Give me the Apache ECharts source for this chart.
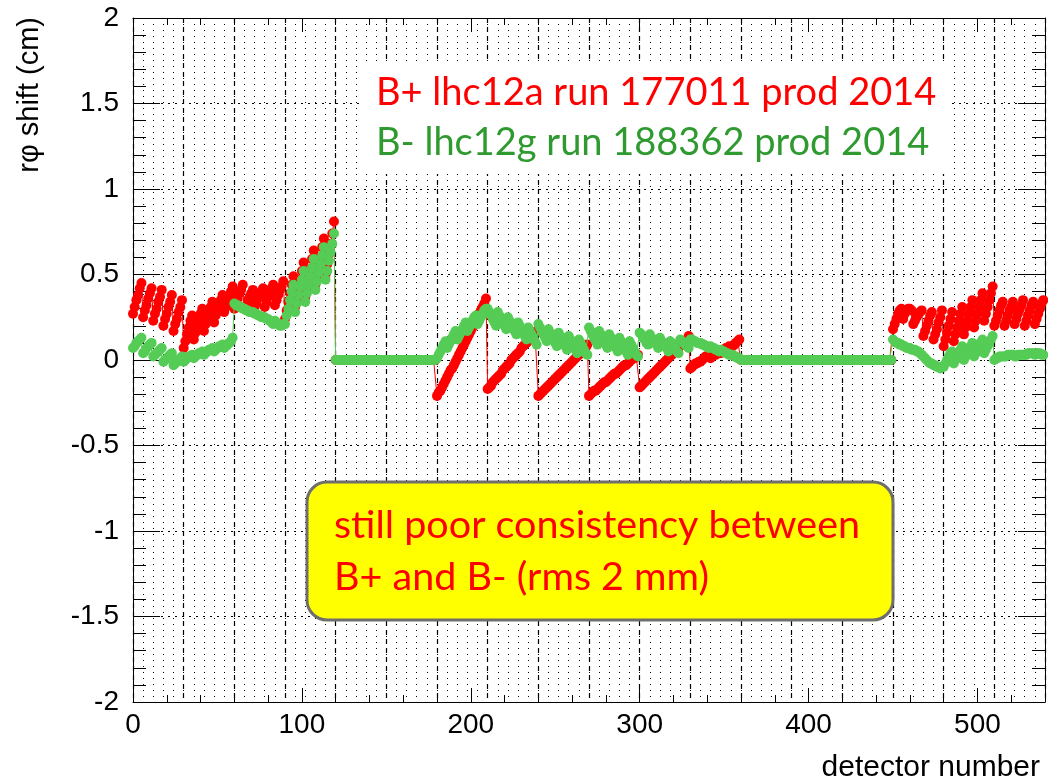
<!DOCTYPE html>
<html>
<head>
<meta charset="utf-8">
<script src="https://cdn.jsdelivr.net/npm/echarts@6/dist/echarts.min.js"></script>
<style>
  html, body { margin: 0; padding: 0; background: #ffffff; }
  #chart { width: 1048px; height: 782px; }
</style>
</head>
<body>
<div id="chart"></div>
<script>
// r-phi shift per TRD chamber (cm); one row per supermodule (5 stacks x 6 layers)
const redShift = [
  0.27,0.31,0.35,0.38,0.42,0.45, 0.25,0.29,0.32,0.36,0.39,0.42, 0.23,0.27,0.30,0.34,0.37,0.41, 0.20,0.24,0.27,0.31,0.34,0.38, 0.17,0.21,0.24,0.28,0.31,0.35,
  0.07,0.11,0.15,0.19,0.23,0.26, 0.12,0.16,0.20,0.24,0.27,0.30, 0.17,0.21,0.24,0.28,0.31,0.34, 0.22,0.26,0.29,0.32,0.35,0.38, 0.28,0.31,0.34,0.37,0.40,0.43,
  0.30,0.33,0.36,0.39,0.41,0.44, 0.30,0.32,0.35,0.37,0.39,0.41, 0.31,0.33,0.36,0.38,0.40,0.42, 0.31,0.34,0.37,0.39,0.42,0.44, 0.32,0.35,0.38,0.41,0.43,0.46,
  0.24,0.29,0.34,0.39,0.44,0.49, 0.31,0.36,0.41,0.47,0.52,0.57, 0.37,0.42,0.48,0.53,0.59,0.64, 0.44,0.49,0.55,0.60,0.66,0.71, 0.50,0.56,0.62,0.68,0.74,0.81,
  0,0,0,0,0,0, 0,0,0,0,0,0, 0,0,0,0,0,0, 0,0,0,0,0,0, 0,0,0,0,0,0,
  0,0,0,0,0,0, 0,0,0,0,0,0, 0,0,0,0,0,0, 0,0,0,0,0,0, 0,0,0,0,0,0,
  -0.21,-0.19,-0.18,-0.16,-0.14,-0.12, -0.10,-0.08,-0.06,-0.05,-0.03,-0.01, 0.01,0.03,0.05,0.07,0.09,0.11, 0.13,0.15,0.17,0.19,0.21,0.23, 0.25,0.27,0.29,0.31,0.33,0.36,
  -0.17,-0.16,-0.15,-0.13,-0.12,-0.11, -0.10,-0.09,-0.08,-0.06,-0.05,-0.04, -0.03,-0.02,0.00,0.01,0.02,0.03, 0.04,0.05,0.07,0.08,0.09,0.10, 0.11,0.12,0.13,0.14,0.16,0.17,
  -0.21,-0.20,-0.19,-0.18,-0.17,-0.16, -0.15,-0.14,-0.13,-0.12,-0.11,-0.10, -0.09,-0.08,-0.07,-0.06,-0.05,-0.04, -0.03,-0.02,-0.01,0.00,0.01,0.02, 0.03,0.04,0.05,0.06,0.07,0.09,
  -0.21,-0.20,-0.19,-0.18,-0.18,-0.17, -0.16,-0.15,-0.14,-0.13,-0.13,-0.12, -0.11,-0.10,-0.09,-0.08,-0.08,-0.07, -0.06,-0.05,-0.04,-0.03,-0.03,-0.02, -0.01,0.00,0.01,0.01,0.02,0.03,
  -0.16,-0.15,-0.14,-0.13,-0.12,-0.11, -0.10,-0.09,-0.08,-0.07,-0.06,-0.05, -0.04,-0.03,-0.02,-0.01,0.00,0.01, 0.02,0.03,0.04,0.05,0.06,0.07, 0.08,0.09,0.10,0.11,0.12,0.14,
  -0.05,-0.04,-0.03,-0.02,-0.02,-0.01, -0.01,0.00,0.01,0.02,0.02,0.03, 0.01,0.02,0.03,0.03,0.04,0.05, 0.04,0.05,0.06,0.07,0.07,0.08, 0.07,0.08,0.09,0.10,0.11,0.12,
  0,0,0,0,0,0, 0,0,0,0,0,0, 0,0,0,0,0,0, 0,0,0,0,0,0, 0,0,0,0,0,0,
  0,0,0,0,0,0, 0,0,0,0,0,0, 0,0,0,0,0,0, 0,0,0,0,0,0, 0,0,0,0,0,0,
  0,0,0,0,0,0, 0,0,0,0,0,0, 0,0,0,0,0,0, 0,0,0,0,0,0, 0,0,0,0,0,0,
  0.18,0.21,0.24,0.27,0.29,0.30, 0.24,0.27,0.29,0.30,0.30,0.29, 0.21,0.23,0.25,0.27,0.28,0.29, 0.14,0.17,0.20,0.23,0.26,0.28, 0.12,0.15,0.18,0.22,0.25,0.29,
  0.08,0.12,0.16,0.20,0.24,0.28, 0.11,0.15,0.19,0.23,0.27,0.31, 0.15,0.19,0.23,0.27,0.31,0.35, 0.19,0.23,0.27,0.31,0.35,0.39, 0.23,0.27,0.31,0.35,0.39,0.43,
  0.20,0.23,0.26,0.29,0.32,0.34, 0.20,0.23,0.26,0.29,0.31,0.34, 0.21,0.24,0.27,0.30,0.32,0.35, 0.20,0.23,0.26,0.29,0.32,0.34, 0.21,0.24,0.27,0.30,0.33,0.35
];

const greenShift = [
  0.07,0.08,0.10,0.11,0.12,0.13, 0.04,0.05,0.07,0.08,0.09,0.10, 0.02,0.03,0.04,0.05,0.06,0.07, -0.01,0.00,0.01,0.02,0.03,0.04, -0.03,-0.02,-0.01,0.00,0.01,0.02,
  -0.01,0.00,0.01,0.02,0.02,0.03, 0.01,0.02,0.03,0.04,0.04,0.05, 0.03,0.04,0.05,0.06,0.06,0.07, 0.05,0.06,0.07,0.08,0.08,0.09, 0.07,0.08,0.09,0.10,0.11,0.13,
  0.33,0.32,0.32,0.31,0.31,0.30, 0.30,0.29,0.29,0.28,0.28,0.28, 0.27,0.27,0.26,0.26,0.25,0.25, 0.25,0.24,0.24,0.23,0.22,0.21, 0.23,0.22,0.21,0.20,0.20,0.21,
  0.21,0.26,0.30,0.35,0.40,0.44, 0.28,0.33,0.38,0.43,0.47,0.52, 0.34,0.39,0.44,0.49,0.54,0.59, 0.41,0.46,0.51,0.56,0.61,0.66, 0.47,0.52,0.58,0.63,0.68,0.74,
  0,0,0,0,0,0, 0,0,0,0,0,0, 0,0,0,0,0,0, 0,0,0,0,0,0, 0,0,0,0,0,0,
  0,0,0,0,0,0, 0,0,0,0,0,0, 0,0,0,0,0,0, 0,0,0,0,0,0, 0,0,0,0,0,0,
  0.01,0.03,0.05,0.07,0.09,0.11, 0.07,0.09,0.11,0.13,0.15,0.17, 0.12,0.14,0.16,0.18,0.20,0.22, 0.17,0.19,0.21,0.23,0.25,0.26, 0.21,0.23,0.25,0.27,0.29,0.30,
  0.30,0.28,0.26,0.24,0.22,0.20, 0.28,0.26,0.24,0.22,0.20,0.18, 0.25,0.23,0.21,0.19,0.17,0.15, 0.22,0.20,0.18,0.16,0.14,0.12, 0.19,0.17,0.15,0.13,0.11,0.09,
  0.21,0.19,0.17,0.15,0.13,0.11, 0.18,0.16,0.14,0.12,0.10,0.08, 0.16,0.14,0.12,0.10,0.08,0.06, 0.14,0.12,0.10,0.08,0.06,0.04, 0.12,0.10,0.08,0.06,0.04,0.03,
  0.19,0.17,0.15,0.13,0.11,0.09, 0.17,0.15,0.13,0.11,0.09,0.07, 0.15,0.13,0.11,0.09,0.07,0.05, 0.13,0.11,0.09,0.07,0.05,0.03, 0.11,0.09,0.07,0.05,0.03,0.02,
  0.16,0.15,0.13,0.12,0.10,0.09, 0.15,0.13,0.12,0.10,0.09,0.07, 0.13,0.11,0.10,0.08,0.07,0.05, 0.11,0.10,0.08,0.07,0.05,0.04, 0.12,0.11,0.10,0.09,0.08,0.07,
  0.12,0.12,0.11,0.11,0.10,0.10, 0.10,0.09,0.09,0.08,0.08,0.07, 0.08,0.07,0.07,0.06,0.06,0.05, 0.06,0.05,0.05,0.04,0.04,0.03, 0.03,0.03,0.02,0.02,0.01,0.01,
  0,0,0,0,0,0, 0,0,0,0,0,0, 0,0,0,0,0,0, 0,0,0,0,0,0, 0,0,0,0,0,0,
  0,0,0,0,0,0, 0,0,0,0,0,0, 0,0,0,0,0,0, 0,0,0,0,0,0, 0,0,0,0,0,0,
  0,0,0,0,0,0, 0,0,0,0,0,0, 0,0,0,0,0,0, 0,0,0,0,0,0, 0,0,0,0,0,0,
  0.12,0.11,0.10,0.10,0.09,0.09, 0.08,0.08,0.07,0.07,0.07,0.06, 0.06,0.06,0.05,0.05,0.04,0.03, 0.02,0.01,0.00,-0.01,-0.02,-0.02, -0.03,-0.03,-0.04,-0.04,-0.05,-0.04,
  -0.04,-0.02,0.00,0.02,0.04,0.05, -0.02,0.00,0.02,0.04,0.06,0.08, 0.00,0.02,0.04,0.06,0.08,0.10, 0.02,0.04,0.06,0.08,0.10,0.12, 0.04,0.06,0.08,0.10,0.12,0.14,
  0.00,0.01,0.01,0.02,0.02,0.02, 0.02,0.02,0.03,0.03,0.03,0.03, 0.02,0.02,0.03,0.03,0.03,0.03, 0.03,0.03,0.04,0.04,0.04,0.04, 0.03,0.04,0.04,0.04,0.03,0.03
];

const legendLines = ['B+ lhc12a run 177011 prod 2014', 'B- lhc12g run 188362 prod 2014'];
const noteLines = ['still poor consistency between', 'B+ and B- (rms 2 mm)'];
const xTitle = 'detector number';
const yTitle = 'r\u03C6 shift (cm)';

const RED = '#ff0000';
const GREEN = '#55cc55';
const TEXT_GREEN = '#2f9a2f';
const AXIS_FONT = 'Liberation Sans, Arial, sans-serif';
const NOTE_FONT = 'Lato, "Open Sans", sans-serif';

const toPoints = arr => arr.map((v, i) => [i, v]);

const blank = { show: false };
function helperX(extra) {
  return Object.assign({
    type: 'value', min: 0, max: 540, position: 'bottom',
    axisLine: { show: false, onZero: false },
    axisTick: blank, axisLabel: blank, splitLine: blank
  }, extra);
}

const chart = echarts.init(document.getElementById('chart'), null, { renderer: 'canvas' });

chart.setOption({
  animation: false,
  backgroundColor: '#ffffff',
  grid: { left: 133, top: 18, right: 3, bottom: 80, containLabel: false },
  xAxis: [
    // main axis with labels and major ticks
    helperX({
      interval: 100,
      axisLine: { show: true, onZero: false, lineStyle: { color: '#000', width: 1 } },
      axisTick: { show: true, inside: true, length: 14, lineStyle: { color: '#000' } },
      axisLabel: { show: true, showMaxLabel: false, margin: 9, fontSize: 28, color: '#000', fontFamily: AXIS_FONT }
    }),
    // minor ticks every 20
    helperX({ interval: 20, axisTick: { show: true, inside: true, length: 7, lineStyle: { color: '#000' } } }),
    // dotted grid at every stack boundary
    helperX({ interval: 6, splitLine: { show: true, lineStyle: { color: '#000', width: 1, type: [1, 5] } } }),
    // dashed grid at every supermodule boundary
    helperX({ interval: 30, splitLine: { show: true, lineStyle: { color: '#000', width: 1.2, type: [5, 4] } } }),
    // top frame with ticks
    helperX({
      position: 'top', interval: 100,
      axisLine: { show: true, onZero: false, lineStyle: { color: '#000', width: 1 } },
      axisTick: { show: true, inside: true, length: 14, lineStyle: { color: '#000' } }
    }),
    helperX({ position: 'top', interval: 20, axisTick: { show: true, inside: true, length: 7, lineStyle: { color: '#000' } } })
  ],
  yAxis: [
    {
      type: 'value', min: -2, max: 2, interval: 0.5, position: 'left',
      axisLine: { show: true, onZero: false, lineStyle: { color: '#000', width: 1 } },
      axisTick: { show: true, inside: true, length: 27, lineStyle: { color: '#000' } },
      minorTick: { show: true, splitNumber: 5, length: 13, lineStyle: { color: '#000' } },
      axisLabel: { margin: 14, fontSize: 28, color: '#000', fontFamily: AXIS_FONT },
      splitLine: { show: true, lineStyle: { color: '#000', width: 1, type: [2, 5] } }
    },
    {
      type: 'value', min: -2, max: 2, interval: 0.5, position: 'right',
      axisLine: { show: true, onZero: false, lineStyle: { color: '#000', width: 1 } },
      axisTick: { show: true, inside: true, length: 27, lineStyle: { color: '#000' } },
      minorTick: { show: true, splitNumber: 5, length: 13, lineStyle: { color: '#000' } },
      axisLabel: blank, splitLine: blank
    }
  ],
  series: [
    {
      name: 'B+', type: 'line', xAxisIndex: 0, yAxisIndex: 0, z: 3,
      data: toPoints(redShift),
      symbol: 'circle', symbolSize: 10, showAllSymbol: true,
      itemStyle: { color: RED },
      lineStyle: { color: RED, width: 1 }
    },
    {
      name: 'B-', type: 'line', xAxisIndex: 0, yAxisIndex: 0, z: 4,
      data: toPoints(greenShift),
      symbol: 'circle', symbolSize: 10, showAllSymbol: true,
      itemStyle: { color: GREEN },
      lineStyle: { color: GREEN, width: 1 }
    }
  ],
  graphic: [
    { type: 'rect', z: 10, shape: { x: 363, y: 62, width: 588, height: 112 }, style: { fill: '#ffffff' } },
    { type: 'text', z: 11, x: 376, y: 93, style: { text: legendLines[0], fill: RED, font: '38px ' + NOTE_FONT, textVerticalAlign: 'middle' } },
    { type: 'text', z: 11, x: 376, y: 143, style: { text: legendLines[1], fill: TEXT_GREEN, font: '38px ' + NOTE_FONT, textVerticalAlign: 'middle' } },
    { type: 'rect', z: 10, shape: { x: 307, y: 482, width: 586, height: 138, r: 20 }, style: { fill: '#ffff00', stroke: '#6e6e6e', lineWidth: 3 } },
    { type: 'text', z: 11, x: 334, y: 525, style: { text: noteLines[0], fill: RED, font: '39.5px ' + NOTE_FONT, textVerticalAlign: 'middle' } },
    { type: 'text', z: 11, x: 334, y: 577, style: { text: noteLines[1], fill: RED, font: '39.5px ' + NOTE_FONT, textVerticalAlign: 'middle' } },
    { type: 'text', z: 11, x: 1040, y: 768, style: { text: xTitle, fill: '#000', font: '30px ' + AXIS_FONT, textAlign: 'right', textVerticalAlign: 'middle' } },
    { type: 'text', z: 11, x: 30, y: 17, rotation: Math.PI / 2, style: { text: yTitle, fill: '#000', font: '29px ' + AXIS_FONT, textAlign: 'right', textVerticalAlign: 'middle' } }
  ]
});
</script>
</body>
</html>
